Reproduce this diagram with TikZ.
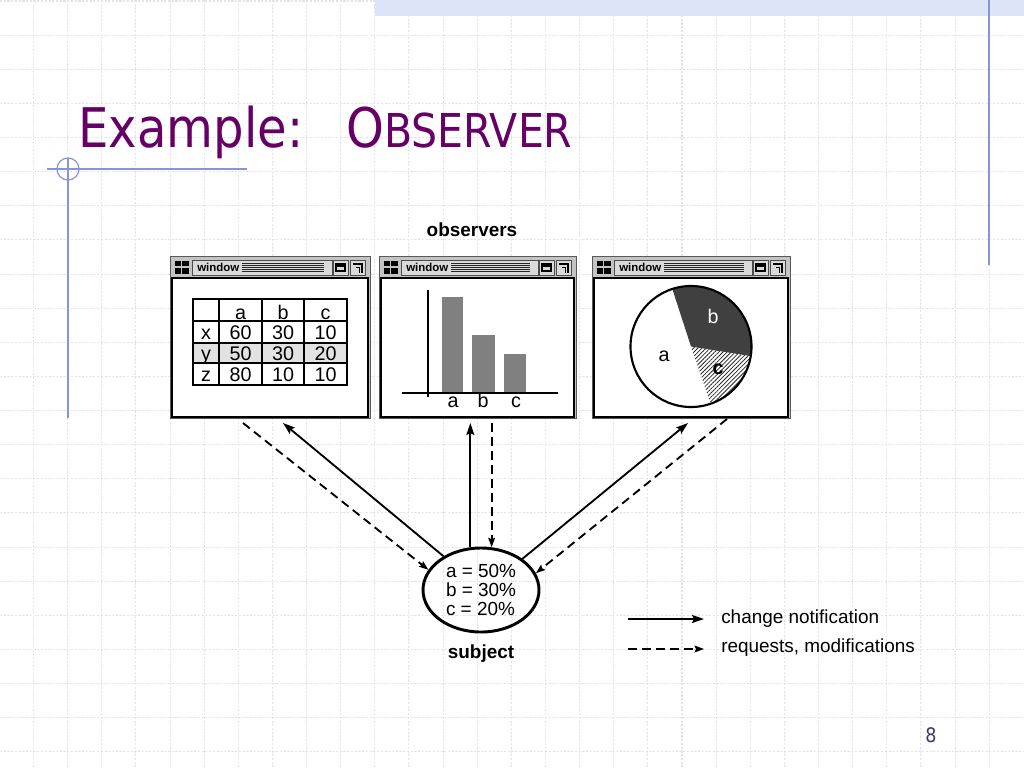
\documentclass[tikz,border=0pt]{standalone}
\usepackage{fontspec}
\setmainfont{Liberation Sans}
\newfontfamily\titlefont[FakeStretch=0.88]{DejaVu Sans}
\usetikzlibrary{arrows.meta,shapes.geometric,patterns.meta}
\definecolor{gridc}{HTML}{E3E3F0}
\definecolor{bandc}{HTML}{DCE4F8}
\definecolor{decoc}{HTML}{8595DA}
\definecolor{titlec}{HTML}{660066}
\definecolor{pagec}{HTML}{3B3B6B}
\definecolor{winframe}{HTML}{C4C4C4}
\definecolor{winbar}{HTML}{DADADA}
\definecolor{rowshade}{HTML}{E2E2E2}
\definecolor{barc}{HTML}{808080}
\definecolor{pieb}{HTML}{404040}
\begin{document}
\begin{tikzpicture}[x=0.75pt,y=-0.75pt,
  gridline/.style={draw=gridc, line width=0.8pt, dash pattern=on 1.6pt off 1.2pt},
  deco/.style={draw=decoc, line width=0.9pt},
  wintext/.style={font=\bfseries\fontsize{8.6}{10}\selectfont, inner sep=0pt, anchor=west},
  tbl/.style={font=\fontsize{14.8}{17}\selectfont, inner sep=0pt, anchor=base},
  lbl/.style={font=\fontsize{14.2}{17}\selectfont, inner sep=0pt, anchor=base},
  blbl/.style={font=\bfseries\fontsize{14.2}{17}\selectfont, inner sep=0pt, anchor=base},
  sol/.style={line width=1.4pt, -{Stealth[length=9pt,width=6pt,inset=1.5pt]}},
  dsh/.style={line width=1.4pt, dash pattern=on 6.5pt off 4pt, -{Stealth[length=7pt,width=5pt,inset=1pt]}},
  subjnode/.style={ellipse, draw, line width=2.2pt, minimum width=87pt, minimum height=63pt,
    inner sep=0pt, align=left, font=\fontsize{14.2}{14.3}\selectfont},
  pics/window/.style={code={
    \fill[winframe] (0,0) rectangle (#1,162);
    \draw[gray!70!black, line width=0.4pt] (0,0) rectangle (#1,162);
    \fill[black] (4.5,4.5) rectangle (18.5,17.5);
    \draw[winframe, line width=1.2pt] (11.5,4.5) -- (11.5,17.5) (4.5,11) -- (18.5,11);
    \draw[fill=winbar, draw=gray!60!black, line width=0.5pt] (22,4) rectangle (#1-38,19);
    \node[wintext] (title) at (27,11.5) {window};
    \foreach \yy in {7.3,9.3,11.3,13.3,15.3} \draw[line width=0.85pt, black!85] (72,\yy) -- (#1-46,\yy);
    \draw[fill=winbar, draw=gray!60!black, line width=0.5pt] (#1-37,4) rectangle (#1-22,19);
    \draw[line width=0.8pt] (#1-34,8) rectangle (#1-25,15);
    \fill (#1-34,8) rectangle (#1-25,11);
    \draw[fill=winbar, draw=gray!60!black, line width=0.5pt] (#1-20,4) rectangle (#1-5,19);
    \draw[line width=1.3pt] (#1-17,8) -- (#1-8,8) -- (#1-8,17);
    \draw[line width=0.7pt] (#1-14,11) -- (#1-11,11) -- (#1-11,17);
    \draw[fill=white, line width=0.9pt] (2,22) rectangle (#1-2,161);
  }}
]
\useasboundingbox (0,0) rectangle (1024,768);
\fill[white] (0,0) rectangle (1024,768);
% background grid
\foreach \k in {1,...,29} \draw[gridline] ({34.13*\k-0.6},0) -- ({34.13*\k-0.6},768);
\foreach \k in {0,...,22} \draw[gridline] (0,{34.13*\k+1}) -- (1024,{34.13*\k+1});
% slide decoration
\fill[bandc] (375,0) rectangle (1024,16);
\draw[deco] (989,0) -- (989,265);
\draw[deco] (47,169) -- (247,169);
\draw[deco] (68,169) circle (11);
\draw[deco] (68,158) -- (68,418);
% title
\node[anchor=base west, inner sep=0pt, text=titlec, font=\titlefont\fontsize{41}{45}\selectfont] (t1) at (78,147) {Example:};
\node[anchor=base west, inner sep=0pt, text=titlec, font=\titlefont\fontsize{41}{45}\selectfont] (t2) at (346,147) {O{\fontsize{35}{40}\selectfont BSERVER}};
% page number
\node[anchor=base, inner sep=0pt, text=pagec, font=\titlefont\fontsize{15}{18}\selectfont] (pg) at (931,742) {8};
% observers label
\node[blbl] (obs) at (472,236) {observers};
% windows
\pic (w1) at (170,256) {window=200};
\pic (w2) at (379,256) {window=197};
\pic (w3) at (592,256) {window=198};
% table
\fill[rowshade] (193,343) rectangle (347,363);
\draw[line width=0.9pt] (193,299) rectangle (347,385);
\draw[line width=0.9pt] (219,299) -- (219,385) (262,299) -- (262,385) (304,299) -- (304,385)
  (193,321) -- (347,321) (193,343) -- (347,343) (193,363) -- (347,363);
\foreach \xx/\txt/\nm in {240.5/a/ha, 283/b/hb, 325.5/c/hc} \node[tbl] (\nm) at (\xx,319) {\txt};
\foreach \yy/\r/\u/\v/\w/\k in {339.5/x/60/30/10/1, 360.5/y/50/30/20/2, 381/z/80/10/10/3} {
  \node[tbl] (r\k-0) at (206,\yy) {\r};
  \node[tbl] (r\k-1) at (240.5,\yy) {\u};
  \node[tbl] (r\k-2) at (283,\yy) {\v};
  \node[tbl] (r\k-3) at (325.5,\yy) {\w};
}
% bar chart
\fill[barc] (442,297) rectangle (463,393);
\fill[barc] (472,335) rectangle (495,393);
\fill[barc] (504,354) rectangle (526,393);
\draw[line width=1pt] (428,290) -- (428,397);
\draw[line width=1pt] (402,393) -- (558,393);
\node[tbl] (ba) at (453,407) {a};
\node[tbl] (bb) at (483,407) {b};
\node[tbl] (bc) at (516,407) {c};
% pie chart
\begin{scope}[shift={(691,346.5)}, yscale=-1]
  \fill[pieb] (0,0) -- (108:60.5) arc[start angle=108, end angle=-9.1, radius=60.5] -- cycle;
  \path[pattern={Lines[angle=45,distance=2.2pt,line width=0.6pt]}, pattern color=black!85]
    (0,0) -- (-9.1:60.5) arc[start angle=-9.1, end angle=-71, radius=60.5] -- cycle;
  \draw[line width=1.6pt] (0,0) circle (60.5);
\end{scope}
\node[tbl, text=white] (pb) at (713,323) {b};
\node[tbl] (pa) at (664,361) {a};
\node[tbl, font=\bfseries\fontsize{14.8}{17}\selectfont] (pc) at (718,374) {c};
% subject
\node[subjnode] (subj) at (481,590) {a = 50\%\\b = 30\%\\c = 20\%};
\node[blbl] (sublbl) at (481,658) {subject};
% connector end points under the windows
\coordinate (p1) at (243,423);
\coordinate (q1) at (283,423);
\coordinate (top2) at (470,423);
\coordinate (q3) at (688,423);
\coordinate (p3) at (727,419);
\draw[dsh] (p1) -- (subj.159);
\draw[sol] (subj.138) -- (q1);
\draw[sol] (subj.104) -- (subj.104 |- top2);
\draw[dsh] (subj.76 |- top2) -- (subj.76);
\draw[sol] (subj.37) -- (q3);
\draw[dsh] (p3) -- (subj.17);
% legend
\coordinate (l1a) at (628,619);
\coordinate (l1b) at (704,619);
\coordinate (l2a) at (628,649);
\coordinate (l2b) at (704,649);
\draw[sol] (l1a) -- (l1b);
\draw[dsh] (l2a) -- (l2b);
\node[lbl, anchor=base west] (lg1) at (721,623) {change notification};
\node[lbl, anchor=base west] (lg2) at (721,652) {requests, modifications};
\end{tikzpicture}
\end{document}
